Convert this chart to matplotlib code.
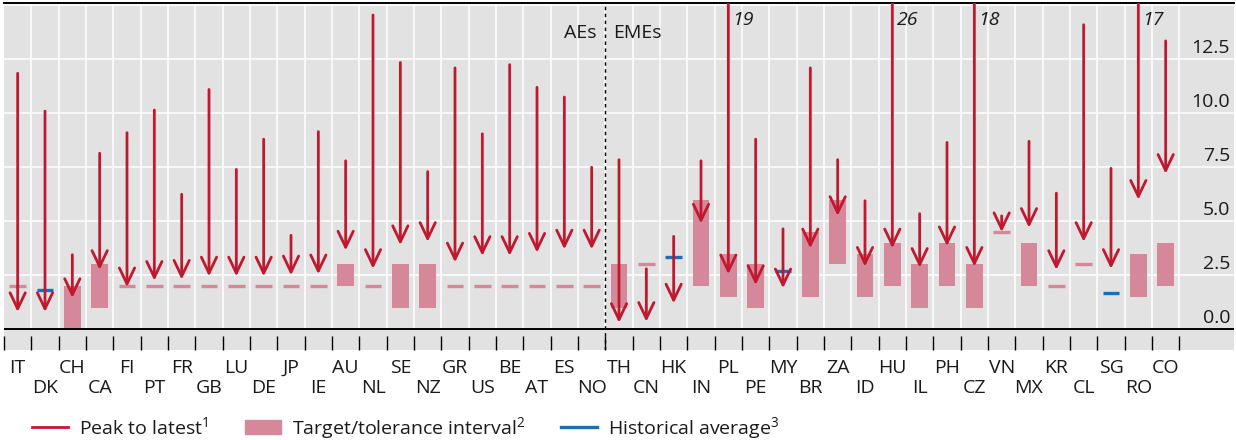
import numpy as np
import matplotlib
matplotlib.use("Agg")
import matplotlib.pyplot as plt
from matplotlib.lines import Line2D
from matplotlib.patches import Patch
from matplotlib.transforms import blended_transform_factory

plt.rcParams['font.family'] = ['Open Sans', 'DejaVu Sans']
plt.rcParams['mathtext.fontset'] = 'custom'
plt.rcParams['mathtext.rm'] = 'Open Sans'
plt.rcParams['mathtext.it'] = 'Open Sans:italic'

# data (per cent)
countries = ['IT', 'DK', 'CH', 'CA', 'FI', 'PT', 'FR', 'GB', 'LU', 'DE', 'JP',
             'IE', 'AU', 'NL', 'SE', 'NZ', 'GR', 'US', 'BE', 'AT', 'ES', 'NO',
             'TH', 'CN', 'HK', 'IN', 'PL', 'PE', 'MY', 'BR', 'ZA', 'ID', 'HU',
             'IL', 'PH', 'CZ', 'VN', 'MX', 'KR', 'CL', 'SG', 'RO', 'CO']
peak = [11.85, 10.1, 3.45, 8.15, 9.1, 10.15, 6.25, 11.1, 7.4, 8.8, 4.35,
        9.15, 7.8, 14.55, 12.35, 7.3, 12.1, 9.05, 12.25, 11.2, 10.75, 7.5,
        7.85, 2.8, 4.3, 7.8, 19, 8.8, 4.65, 12.1, 7.85, 5.95, 26,
        5.35, 8.65, 18, 5.25, 8.7, 6.3, 14.1, 7.45, 17, 13.35]
latest = [0.8, 0.8, 1.45, 2.75, 1.95, 2.25, 2.3, 2.45, 2.45, 2.45, 2.5,
          2.55, 3.65, 2.8, 3.9, 4.05, 3.1, 3.4, 3.4, 3.55, 3.7, 3.7,
          0.3, 0.35, 1.2, 4.9, 2.55, 2.05, 1.9, 3.75, 5.25, 2.9, 3.75,
          2.85, 3.85, 2.9, 4.5, 4.7, 2.75, 4.05, 2.8, 6.0, 7.2]
nan = np.nan
target_lo = [2, nan, 0, 1, 2, 2, 2, 2, 2, 2, 2,
             2, 2, 2, 1, 1, 2, 2, 2, 2, 2, 2,
             1, 3, nan, 2, 1.5, 1, nan, 1.5, 3, 1.5, 2,
             1, 2, 1, 4.5, 2, 2, 3, nan, 1.5, 2]
target_hi = [2, nan, 2, 3, 2, 2, 2, 2, 2, 2, 2,
             2, 3, 2, 3, 3, 2, 2, 2, 2, 2, 2,
             3, 3, nan, 6, 3.5, 3, nan, 4.5, 6, 3.5, 4,
             3, 4, 3, 4.5, 4, 2, 3, nan, 3.5, 4]
hist_avg = [nan, 1.8, nan, nan, nan, nan, nan, nan, nan, nan, nan,
            nan, nan, nan, nan, nan, nan, nan, nan, nan, nan, nan,
            nan, nan, 3.35, nan, nan, nan, 2.7, nan, nan, nan, nan,
            nan, nan, nan, nan, nan, nan, nan, 1.7, nan, nan]
n_ae = 22
yticks = [0.0, 2.5, 5.0, 7.5, 10.0, 12.5]

RED = '#c0182e'
PINK = '#d4889a'
BLUE = '#1b6db5'
BG = '#e1e2e1'
TXT = '#1a1a1a'
FS = 14

fig = plt.figure(figsize=(12.36, 4.40), dpi=100)
ax = fig.add_axes([4 / 1236, 1 - 350 / 440, 1230 / 1236, (350 - 3.3) / 440])
ax.set_facecolor(BG)
ymax = 15.09
ax.set_xlim(0, 45)
ax.set_ylim(-0.96, ymax)

x = np.arange(len(countries)) + 0.5
n = len(countries)

# white grid
for v in yticks[1:] + [15.0]:
    ax.axhline(v, color='white', lw=1.1, zorder=0)
ax.vlines(np.arange(1, n + 1), 0, ymax, color='white', lw=1.1, zorder=0)

# target intervals / points
lo = np.array(target_lo)
hi = np.array(target_hi)
rng = ~np.isnan(lo) & (hi > lo)
pt = ~np.isnan(lo) & (hi == lo)
ax.bar(x[rng], (hi - lo)[rng], bottom=lo[rng], width=0.61, color=PINK, zorder=2)
ax.hlines(lo[pt], x[pt] - 0.3, x[pt] + 0.3, color=PINK, lw=2.4, zorder=2)

ha = np.array(hist_avg)
hm = ~np.isnan(ha)
ax.hlines(ha[hm], x[hm] - 0.3, x[hm] + 0.3, color=BLUE, lw=2.4, zorder=3)

# peak to latest arrows
for xi, p, l in zip(x, peak, latest):
    a = ax.annotate('', xy=(xi, l), xytext=(xi, p), annotation_clip=False,
                    arrowprops=dict(arrowstyle='->,head_length=1.15,head_width=0.55',
                                    color=RED, lw=2.0, shrinkA=0, shrinkB=0,
                                    mutation_scale=10), zorder=4)
    a.arrow_patch.set_clip_box(ax.bbox)
    a.arrow_patch.set_clip_on(True)
    if p > ymax:
        ax.text(xi + 0.15, 14.3, '%d' % p, style='italic', fontsize=FS,
                color=TXT, ha='left', va='center')

ax.axhline(0, color='black', lw=1.4, zorder=5)
ax.axvline(n_ae, color='black', lw=1.0, ls=(0, (2.5, 2.5)), zorder=5)
ax.text(n_ae - 0.34, 13.7, 'AEs', fontsize=FS, color=TXT, ha='right', va='center')
ax.text(n_ae + 0.28, 13.7, 'EMEs', fontsize=FS, color=TXT, ha='left', va='center')

# y labels inside plot on the right
ax.set_yticks([])
for v in yticks:
    ax.text(44.86, v + 0.3, '%.1f' % v, fontsize=FS, color=TXT, ha='right',
            va='baseline')

# x ticks at boundaries
ax.set_xticks(np.arange(0, n + 1))
ax.tick_params(axis='x', direction='in', length=10, width=1.0, color='black',
               labelbottom=False)
for s in ['left', 'right', 'bottom']:
    ax.spines[s].set_visible(False)
ax.spines['top'].set_linewidth(1.4)

tr = blended_transform_factory(ax.transData, fig.transFigure)
for i, (xi, c) in enumerate(zip(x, countries)):
    yy = 1 - 368 / 440 if i % 2 == 0 else 1 - 388 / 440
    ax.text(xi, yy, c, transform=tr, fontsize=FS, color=TXT, ha='center',
            va='center')

handles = [Line2D([], [], color=RED, lw=2.0),
           Patch(color=PINK),
           Line2D([], [], color=BLUE, lw=2.4)]
labels = ['Peak to latest$^1$', 'Target/tolerance interval$^2$',
          'Historical average$^3$']
fig.legend(handles, labels, loc='center left',
           bbox_to_anchor=(32 / 1236, 1 - 428 / 440), ncol=3, frameon=False,
           fontsize=FS, handlelength=1.85, handleheight=0.75, handletextpad=0.57,
           columnspacing=1.85, borderpad=0, borderaxespad=0,
           labelcolor=TXT)

fig.savefig('out.png', dpi=100)
